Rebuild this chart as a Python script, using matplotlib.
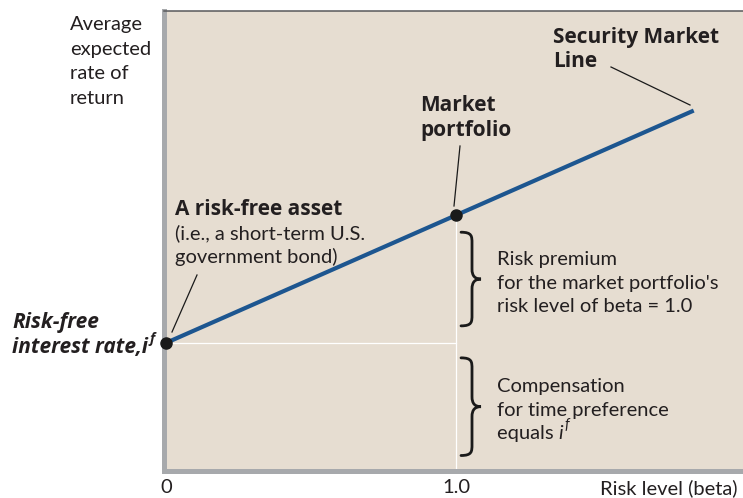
import matplotlib
matplotlib.use("Agg")
import matplotlib.pyplot as plt
from matplotlib.path import Path
from matplotlib.patches import PathPatch
from matplotlib.transforms import IdentityTransform

# ---- data ----
beta_values = [0.0, 1.0, 1.82]          # risk-free, market, end of SML
risk_free_rate = 5.0
market_return = 10.0
tick_positions = [0.0, 1.0]
tick_labels = ["0", "1.0"]

W, H = 743, 498
FONT = "Lato"
BOLD_FONT = "Open Sans"
TXT = "#231f20"
BG = "#e6ddd1"
BLUE = "#1d5690"

plt.rcParams['font.family'] = [FONT, 'DejaVu Sans']

fig = plt.figure(figsize=(W / 100, H / 100), dpi=100)
fig.patch.set_facecolor("white")

left_px, right_px, top_px, bot_px = 163.5, 743, 11, 470.5
ax = fig.add_axes([left_px / W, 1 - bot_px / H, (right_px - left_px) / W, (bot_px - top_px) / H])
ax.set_facecolor(BG)
ax.set_xlim(-0.009, 1.99)
ax.set_ylim(0, 18.0)

slope = market_return - risk_free_rate
sml_y = [risk_free_rate + slope * b for b in beta_values]

# white guide lines
ax.plot([beta_values[0], beta_values[1]], [risk_free_rate, risk_free_rate], color="white", lw=0.9, zorder=2)
ax.plot([beta_values[1], beta_values[1]], [0, market_return], color="white", lw=0.9, zorder=2)

# SML
ax.plot([beta_values[0], beta_values[2]], [sml_y[0], sml_y[2]], color=BLUE, lw=3.0,
        solid_capstyle="butt", zorder=3)
ax.plot(beta_values[:2], sml_y[:2], 'o', color="#1a1a1a", ms=8, zorder=5, clip_on=False)

# spines
for s in ["left", "bottom"]:
    ax.spines[s].set_color("#a7a9ac")
    ax.spines[s].set_linewidth(3.6)
ax.spines["top"].set_color("#58595b")
ax.spines["top"].set_linewidth(1.1)
ax.spines["right"].set_visible(False)
ax.set_yticks([])
ax.set_xticks(tick_positions)
ax.set_xticklabels(tick_labels, fontsize=14.5, color=TXT)
ax.tick_params(axis="x", length=0, pad=16.5)
for lab in ax.get_xticklabels():
    lab.set_verticalalignment("baseline")


def px(x, y):
    return x / W, 1 - y / H


def lines(x, y0, texts, dy, **kw):
    out = []
    for i, t in enumerate(texts):
        out.append(fig.text(*px(x, y0 + i * dy), t, va="baseline", **kw))
    return out


common = dict(color=TXT, fontsize=14.5)
bold = dict(color=TXT, fontsize=15, fontweight="bold", family=[BOLD_FONT, "DejaVu Sans"])
lines(70, 30, ["Average", "expected", "rate of", "return"], 24.5, **common)
lines(553, 43.5, ["Security Market", "Line"], 23.5, **bold)
lines(420, 111, ["Market", "portfolio"], 24.5, **bold)
lines(175, 215, ["A risk-free asset"], 24, **bold)
lines(175, 239, ["(i.e., a short-term U.S.", "government bond)"], 23.5, **common)
lines(497, 265, ["Risk premium", "for the market portfolio's", "risk level of beta = 1.0"], 23.5, **common)
lines(497, 392, ["Compensation", "for time preference"], 23.5, **common)
lines(12, 328, ["Risk-free"], 24, fontstyle="italic", **bold)
t_int = fig.text(*px(12, 353), "interest rate,i", va="baseline", fontstyle="italic", **bold)
t_eq = fig.text(*px(497, 439), "equals ", va="baseline", **common)
fig.text(*px(737, 494), "Risk level (beta)", va="baseline", ha="right", **common)

fig.canvas.draw()
r = fig.canvas.get_renderer()
bb = t_int.get_window_extent(r)
fig.text((bb.x1 + 1) / W, 1 - 343 / H, "f", va="baseline", fontstyle="italic",
         **{**bold, "fontsize": 10})
bb2 = t_eq.get_window_extent(r)
t_i = fig.text(bb2.x1 / W, 1 - 439 / H, "i", va="baseline", fontstyle="italic", **common)
fig.canvas.draw()
bb3 = t_i.get_window_extent(r)
fig.text((bb3.x1 + 1) / W, 1 - 429 / H, "f", va="baseline", fontstyle="italic", color=TXT, fontsize=10.5)


# leader lines (figure pixels, y down)
def leader(x0, y0, x1, y1):
    fig.add_artist(plt.Line2D([x0 / W, x1 / W], [1 - y0 / H, 1 - y1 / H], color="#1a1a1a", lw=0.9))


leader(611, 67, 690, 105)
leader(460, 146, 454, 206)
leader(197, 275, 172, 332)


# braces anchored to data
def brace(ytop, ybot, x0, x1):
    # display coords (y up)
    xs = x0 + 0.55 * (x1 - x0)
    ym = 0.5 * (ytop + ybot)
    verts = [
        (x0, ytop),
        (xs, ytop), (xs, ytop - 4), (xs, ytop - 11),
        (xs, ym + 10),
        (xs, ym + 3), (xs + 3, ym), (x1, ym),
        (xs + 3, ym), (xs, ym - 3), (xs, ym - 10),
        (xs, ybot + 11),
        (xs, ybot + 4), (xs, ybot), (x0, ybot),
    ]
    codes = [Path.MOVETO,
             Path.CURVE4, Path.CURVE4, Path.CURVE4,
             Path.LINETO,
             Path.CURVE4, Path.CURVE4, Path.CURVE4,
             Path.CURVE4, Path.CURVE4, Path.CURVE4,
             Path.LINETO,
             Path.CURVE4, Path.CURVE4, Path.CURVE4]
    fig.add_artist(PathPatch(Path(verts, codes), fill=False, lw=2.0, edgecolor="#1a1a1a",
                             transform=IdentityTransform(), capstyle="round"))


mx, my = ax.transData.transform((beta_values[1], market_return))
_, ry = ax.transData.transform((beta_values[1], risk_free_rate))
_, by = ax.transData.transform((beta_values[1], 0))
brace(my - 17, ry + 17, mx + 5, mx + 25)
brace(ry - 15, by + 15, mx + 5, mx + 25)

fig.savefig("out.png", dpi=100)
